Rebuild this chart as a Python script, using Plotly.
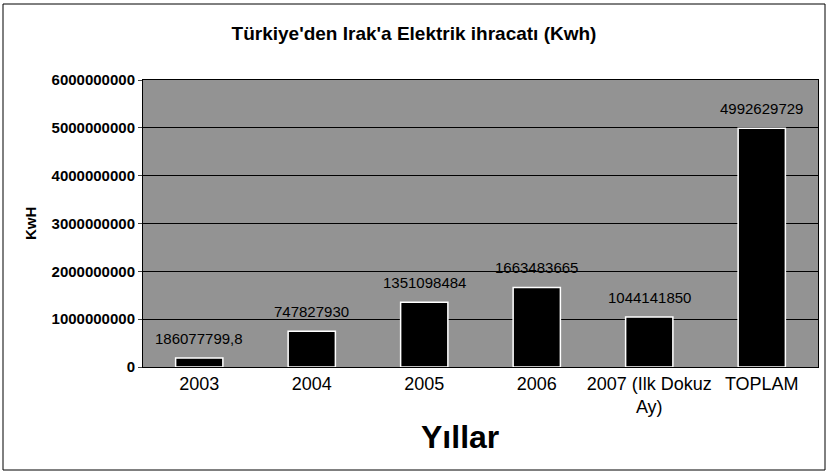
import plotly.graph_objects as go

categories = ["2003", "2004", "2005", "2006", "2007 (Ilk Dokuz<br>Ay)", "TOPLAM"]
values = [186077799.8, 747827930, 1351098484, 1663483665, 1044141850, 4992629729]
labels = ["186077799,8", "747827930", "1351098484", "1663483665", "1044141850", "4992629729"]
y_ticks = [0, 1000000000, 2000000000, 3000000000, 4000000000, 5000000000, 6000000000]

FONT = "Liberation Sans, Arial"
xpos = list(range(len(categories)))

fig = go.Figure(go.Bar(
    x=xpos, y=values, width=0.42,
    marker=dict(color="black", line=dict(color="white", width=1.5)),
))

for c, v, t in zip(xpos, values, labels):
    fig.add_annotation(x=c, y=v, text=t, showarrow=False, yanchor="bottom",
                       yshift=9, font=dict(family=FONT, size=15, color="black"))

fig.update_layout(
    width=828, height=474,
    margin=dict(l=143, r=10, t=80, b=107, autoexpand=False),
    paper_bgcolor="white", plot_bgcolor="#939393",
    showlegend=False,
    title=dict(text="<b>Türkiye'den Irak'a Elektrik ihracatı (Kwh)</b>",
               x=0.5, xref="container", y=0.93, yanchor="middle",
               font=dict(family=FONT, size=19, color="black")),
    font=dict(family=FONT, color="black"),
)
fig.update_yaxes(range=[0, 6000000000], tickvals=y_ticks,
                 ticktext=["<b>%d</b>" % v for v in y_ticks],
                 tickfont=dict(size=15, family=FONT),
                 showgrid=True, gridcolor="black", gridwidth=1,
                 showline=True, linecolor="black", linewidth=1, mirror=True,
                 ticks="outside", ticklen=4, automargin=False, zeroline=False)
fig.update_xaxes(range=[-0.5, len(categories) - 0.5], tickvals=xpos, ticktext=categories,
                 tickfont=dict(size=18, family=FONT), showgrid=False, zeroline=False,
                 showline=True, linecolor="black", linewidth=1, mirror=True,
                 ticks="", automargin=False)

fig.add_annotation(text="<b>KwH</b>", xref="paper", yref="paper",
                   x=(30 - 143) / 675, y=(367 - 224) / 287, textangle=-90,
                   xanchor="center", yanchor="middle",
                   showarrow=False, font=dict(family=FONT, size=15))
fig.add_annotation(text="<b>Yıllar</b>", xref="paper", yref="paper",
                   x=(460 - 143) / 675, y=(367 - 437) / 287,
                   xanchor="center", yanchor="middle",
                   showarrow=False, font=dict(family=FONT, size=32))

# outer chart frame
fig.add_shape(type="rect", xref="paper", yref="paper",
              x0=(3 - 143) / 675, x1=(825 - 143) / 675,
              y0=(367 - 470) / 287, y1=(367 - 4) / 287,
              line=dict(color="black", width=1), layer="below")

fig.write_html("out.html", config={"displayModeBar": False},
               post_script="document.body.style.margin='0';")
